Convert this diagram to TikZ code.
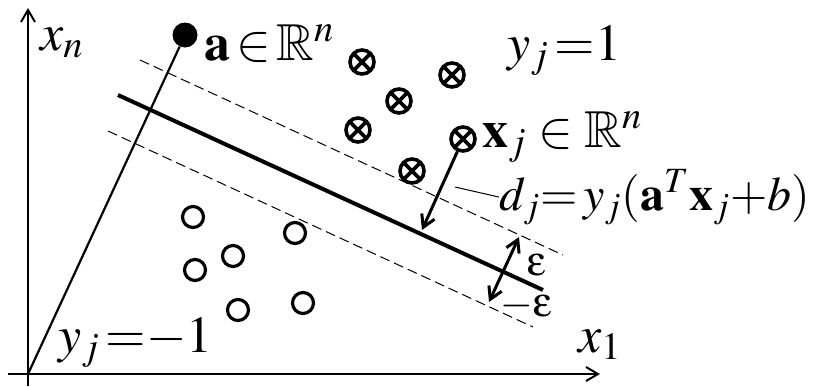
\documentclass[tikz,border=0pt]{standalone}
\usepackage{amsmath, amssymb}
\usepackage{mathptmx}
\usetikzlibrary{arrows.meta, calc}
\newcommand{\symeps}{{\usefont{U}{psy}{m}{n}e}}
\tikzset{
  >={Straight Barb[length=6pt, width=7pt]},
  axisarrow/.style={-{Straight Barb[length=6pt, width=7pt]}, line width=1pt},
  distarrow/.style={-{Straight Barb[length=6pt, width=7pt]}, line width=1.5pt},
  hyperplane/.style={line width=2pt},
  marginline/.style={line width=0.5pt, dash pattern=on 5pt off 2.5pt},
  plusmark/.style={circle, draw, line width=1.8pt, minimum size=12pt, inner sep=0pt,
    path picture={\draw[line width=1.8pt] (path picture bounding box.north west) -- (path picture bounding box.south east)
      (path picture bounding box.north east) -- (path picture bounding box.south west);}},
  minusmark/.style={circle, draw, line width=1.6pt, minimum size=10.5pt, inner sep=0pt},
  lbl/.style={anchor=base west, inner sep=0pt, font=\fontsize{26}{30}\selectfont}
}

\begin{document}
\begin{tikzpicture}[x=0.5pt, y=-0.5pt]
    \useasboundingbox (0,0) rectangle (823,386);

    % axes
    \coordinate (orig) at (28,374);
    \coordinate (ytop) at (28,8);
    \coordinate (ybot) at (28,386);
    \coordinate (xleft) at (8,374);
    \coordinate (xright) at (600,374);
    \draw[axisarrow] (ybot) -- (ytop);
    \draw[axisarrow] (xleft) -- (xright);
    \node (xn) [lbl] at (40,50) {$x_n$};
    \node (x1) [lbl] at (578,352) {$x_1$};

    % hyperplane and margins
    \coordinate (hpS) at (118,95);
    \coordinate (hpE) at (543,290);
    \coordinate (upS) at (140,60);
    \coordinate (upE) at (563,255);
    \coordinate (loS) at (108,131);
    \coordinate (loE) at (533,327);
    \draw[hyperplane] (hpS) -- (hpE);
    \draw[marginline] (upS) -- (upE);
    \draw[marginline] (loS) -- (loE);

    % normal vector a
    \node (ptA) [circle, fill, minimum size=12.5pt, inner sep=0pt] at (185,35) {};
    \draw[line width=1.1pt] (orig) -- (ptA);
    \node (lblA) [lbl] at (204,60) {$\mathbf{a}\,{\in}\,\mathbb{R}^n$};

    % class +1
    \node (p1) [plusmark] at (362,62) {};
    \node (p2) [plusmark] at (452,75) {};
    \node (p3) [plusmark] at (399,101) {};
    \node (p4) [plusmark] at (358,130) {};
    \node (xj) [plusmark] at (463,139) {};
    \node (p6) [plusmark] at (412,171) {};
    \node (lblPos) [lbl] at (507,60) {$y_j\,{=}1$};
    \node (lblXj) [lbl] at (482,147) {$\mathbf{x}_j\in\mathbb{R}^n$};

    % class -1
    \node (m1) [minusmark] at (193,217) {};
    \node (m2) [minusmark] at (295,233) {};
    \node (m3) [minusmark] at (233,256) {};
    \node (m4) [minusmark] at (195,270) {};
    \node (m5) [minusmark] at (238,310) {};
    \node (m6) [minusmark] at (303,303) {};
    \node (lblNeg) [lbl] at (58,352) {$y_j\,{=}{-}1$};

    % distance of x_j
    \coordinate (dfoot) at (422,230);
    \draw[distarrow] (xj) -- (dfoot);
    \node (lblD) [lbl, font=\fontsize{24}{28}\selectfont] at (499,210) {$d_j{=}\,y_j(\mathbf{a}^T\mathbf{x}_j{+}b)$};
    \coordinate (leadS) at (455,187);
    \draw[line width=0.5pt] (leadS) -- (lblD.west);

    % margin width
    \coordinate (epsT) at (519,237);
    \coordinate (epsB) at (489,302);
    \draw[distarrow, <->] (epsB) -- (epsT);
    \node (lblEps) [lbl, font=\fontsize{21}{24}\selectfont] at (527,275) {\symeps};
    \node (lblMEps) [lbl, font=\fontsize{21}{24}\selectfont] at (500,316) {$-$\symeps};
\end{tikzpicture}
\end{document}
